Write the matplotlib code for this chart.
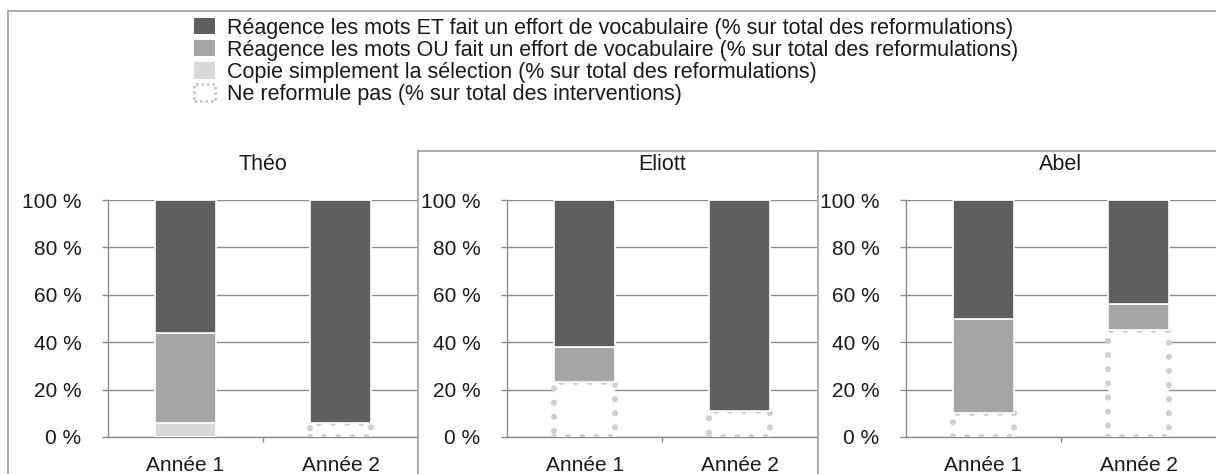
import matplotlib
matplotlib.use("Agg")
import matplotlib.pyplot as plt
from matplotlib.lines import Line2D
from matplotlib.patches import Patch
from matplotlib.ticker import FixedLocator

plt.rcParams['font.family'] = ['Liberation Sans', 'DejaVu Sans']

# ---------------- data ----------------
students = ["Théo", "Eliott", "Abel"]
years = ["Année 1", "Année 2"]
ne_reformule = {"Théo": [0, 6], "Eliott": [23, 11], "Abel": [10, 45]}
copie = {"Théo": [6, 0], "Eliott": [0, 0], "Abel": [0, 0]}
reagence_ou = {"Théo": [38, 0], "Eliott": [15, 0], "Abel": [40, 11]}
reagence_et = {"Théo": [56, 94], "Eliott": [62, 89], "Abel": [50, 44]}
yticks = [0, 20, 40, 60, 80, 100]
ytick_labels = ["0 %", "20 %", "40 %", "60 %", "80 %", "100 %"]
labels = [
    "Réagence les mots ET fait un effort de vocabulaire (% sur total des reformulations)",
    "Réagence les mots OU fait un effort de vocabulaire (% sur total des reformulations)",
    "Copie simplement la sélection (% sur total des reformulations)",
    "Ne reformule pas (% sur total des interventions)",
]

# ---------------- style ----------------
W, H = 1216, 474
C_ET = "#5f5f5f"
C_OU = "#a6a6a6"
C_COPIE = "#d9d9d9"
C_DOT = "#cfcfcf"
C_GRID = "#8c8c8c"
C_FRAME = "#a6a6a6"
TXT = "#1a1a1a"
FS_TICK = 15
FS_TXT = 15.5

fig = plt.figure(figsize=(W / 100, H / 100), dpi=100)

def fx(px):
    return px / W

def fy(py):
    return 1 - py / H

ax_left = [108, 507, 906]
ax_w = 310
ax_top, ax_bot = 200, 437
bar_w = 0.39
DOT_STYLE = (0, (0.01, 2.3))

def edges(vals, col):
    return [col if v > 0 else "none" for v in vals]

for i, name in enumerate(students):
    ax = fig.add_axes([fx(ax_left[i]), fy(ax_bot), fx(ax_w), (ax_bot - ax_top) / H])
    x = list(range(len(years)))
    nr = ne_reformule[name]
    cp = copie[name]
    ou = reagence_ou[name]
    et = reagence_et[name]
    ax.bar(x, nr, width=bar_w, color="white", edgecolor=edges(nr, C_DOT),
           linewidth=4.4, linestyle=DOT_STYLE, capstyle="round", zorder=3)
    base = [a for a in nr]
    ax.bar(x, cp, width=bar_w, bottom=base, color=C_COPIE,
           edgecolor=edges(cp, "white"), linewidth=1.2, zorder=3)
    base = [a + b for a, b in zip(base, cp)]
    ax.bar(x, ou, width=bar_w, bottom=base, color=C_OU,
           edgecolor=edges(ou, "white"), linewidth=1.2, zorder=3)
    base = [a + b for a, b in zip(base, ou)]
    ax.bar(x, et, width=bar_w, bottom=base, color=C_ET,
           edgecolor=edges(et, "white"), linewidth=1.2, zorder=3)

    ax.set_xlim(-0.5, 1.5)
    ax.set_ylim(0, 100)
    ax.yaxis.set_major_locator(FixedLocator(yticks))
    ax.set_yticklabels(ytick_labels)
    ax.set_xticks(x)
    ax.set_xticklabels(years)
    ax.xaxis.set_minor_locator(FixedLocator([0.5]))
    ax.tick_params(axis="x", which="major", length=0, pad=13.5, labelsize=FS_TICK, labelcolor=TXT)
    ax.tick_params(axis="x", which="minor", length=3.5, width=1, color=C_GRID, direction="out")
    ax.tick_params(axis="y", length=4, width=1, color=C_GRID, pad=15, labelsize=FS_TICK, labelcolor=TXT)
    ax.grid(axis="y", color=C_GRID, linewidth=1, zorder=0)
    ax.set_axisbelow(True)
    for s in ["top", "right"]:
        ax.spines[s].set_visible(False)
    for s in ["left", "bottom"]:
        ax.spines[s].set_color(C_GRID)
        ax.spines[s].set_linewidth(1)
    ax.patch.set_alpha(0)
    fig.text(fx(ax_left[i] + ax_w / 2), fy(164), name, ha="center", va="center",
             fontsize=FS_TXT, color=TXT)

# frame lines
frame_kw = dict(color=C_FRAME, linewidth=1.3, transform=fig.transFigure)
fig.add_artist(Line2D([fx(7.5), fx(7.5)], [fy(11), 0], **frame_kw))
fig.add_artist(Line2D([fx(7.5), 1], [fy(11), fy(11)], **frame_kw))
fig.add_artist(Line2D([fx(418), 1], [fy(151), fy(151)], **frame_kw))
fig.add_artist(Line2D([fx(418), fx(418)], [fy(151), 0], **frame_kw))
fig.add_artist(Line2D([fx(818), fx(818)], [fy(151), 0], **frame_kw))

handles = [
    Patch(facecolor=C_ET, edgecolor="none"),
    Patch(facecolor=C_OU, edgecolor="none"),
    Patch(facecolor=C_COPIE, edgecolor="none"),
    Patch(facecolor="white", edgecolor="#c8c8c8", linewidth=2.2,
          linestyle=(0, (0.8, 1.0))),
]
leg = fig.legend(handles, labels, loc="upper left", bbox_to_anchor=(fx(185), fy(9)),
                 frameon=False, fontsize=FS_TXT, handlelength=1.0, handleheight=0.8,
                 handletextpad=0.55, labelspacing=0.05, borderaxespad=0.2, borderpad=0.2)
for t in leg.get_texts():
    t.set_color(TXT)

fig.savefig("out.png", dpi=100)
